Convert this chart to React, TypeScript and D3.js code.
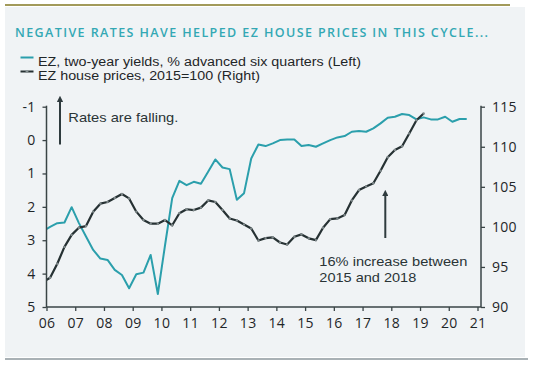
import * as d3 from "d3";
import { useEffect, useRef } from "react";

// quarterly readings, first quarter is 2005 Q4 (clipped at the axis)
const firstQuarter = 2005.875;

const yieldValues = [
  2.73, 2.6, 2.49, 2.47, 2.01, 2.48, 2.89, 3.29, 3.55, 3.59, 3.89, 4.04,
  4.44, 4.02, 3.97, 3.44, 4.61, 3.15, 1.74, 1.22, 1.35, 1.25, 1.31, 0.95,
  0.58, 0.82, 0.87, 1.79, 1.59, 0.55, 0.13, 0.18, 0.1, 0.0, -0.02, -0.02,
  0.18, 0.15, 0.2, 0.1, 0.0, -0.08, -0.12, -0.25, -0.27, -0.25, -0.35, -0.5,
  -0.67, -0.7, -0.78, -0.75, -0.62, -0.68, -0.62, -0.62, -0.7, -0.55, -0.63,
  -0.63,
];

const houseValues = [
  93.1, 93.65, 95.4, 97.5, 99.0, 99.9, 100.1, 101.9, 102.9, 103.1, 103.6,
  104.1, 103.55, 101.9, 100.85, 100.4, 100.4, 100.85, 100.2, 101.7, 102.2,
  102.1, 102.4, 103.3, 103.1, 102.1, 101.05, 100.8, 100.3, 99.8, 98.3, 98.6,
  98.7, 98.05, 97.8, 98.77, 99.06, 98.57, 98.35, 99.9, 100.97, 101.05, 101.47,
  103.3, 104.6, 105.05, 105.45, 107.0, 108.7, 109.6, 110.07, 111.66, 113.3,
  114.15,
];

const yearTicks = [
  2006, 2007, 2008, 2009, 2010, 2011, 2012, 2013, 2014, 2015, 2016, 2017,
  2018, 2019, 2020, 2021,
];
const leftTicks = [-1, 0, 1, 2, 3, 4, 5];
const rightTicks = [90, 95, 100, 105, 110, 115];

const title = "NEGATIVE RATES HAVE HELPED EZ HOUSE PRICES IN THIS CYCLE...";
const legendLabels = [
  "EZ, two-year yields, % advanced six quarters (Left)",
  "EZ house prices, 2015=100 (Right)",
];

const TEAL = "#2b9fac";
const DARK = "#263133";
const FONT = "'Open Sans', 'Liberation Sans', Arial, sans-serif";
// tighter line box for the stacked two-line texts
const BODY_FONT = "'Liberation Sans', Arial, sans-serif";

const Chart = () => {
  const ref = useRef(null);

  useEffect(() => {
    d3.select(ref.current).select("svg").remove();

    const W = 536,
      H = 366;
    const left = 46.5,
      right = 481,
      top = 106.7,
      bottom = 307;

    const svg = d3
      .select(ref.current)
      .append("svg")
      .attr("width", W)
      .attr("height", H)
      .style("display", "block")
      .style("font-family", FONT);

    // panel background and rules
    svg.append("rect").attr("x", 5).attr("y", 7).attr("width", 520).attr("height", 350).attr("fill", "#f0f3f5");
    svg.append("line").attr("x1", 5).attr("x2", 510).attr("y1", 5).attr("y2", 5).attr("stroke", "#a29a5a").attr("stroke-width", 2);
    svg.append("line").attr("x1", 5).attr("x2", 528).attr("y1", 359).attr("y2", 359).attr("stroke", "#a9b1b5").attr("stroke-width", 2);

    svg
      .append("text")
      .attr("x", 15)
      .attr("y", 37)
      .attr("font-size", 12.5)
      .attr("font-weight", 600)
      .attr("fill", "#33a8b4")
      .attr("textLength", 473)
      .attr("lengthAdjust", "spacing")
      .text(title);

    // legend
    const legendY = [65.5, 79.5];
    const legendW = [323, 222];
    legendLabels.forEach((lbl, i) => {
      svg
        .append("line")
        .attr("x1", 20.5)
        .attr("x2", 33.5)
        .attr("y1", legendY[i] - 8)
        .attr("y2", legendY[i] - 8)
        .attr("stroke", i === 0 ? TEAL : DARK)
        .attr("stroke-width", 2);
      if (i === 1) {
        svg.append("circle").attr("cx", 27).attr("cy", legendY[i] - 8).attr("r", 1.4).attr("fill", "#8a9496");
      }
      svg
        .append("text")
        .attr("x", 38)
        .attr("y", legendY[i])
        .attr("font-size", 12.5)
        .attr("font-family", BODY_FONT)
        .attr("fill", "#1f2628")
        .attr("textLength", legendW[i])
        .attr("lengthAdjust", "spacingAndGlyphs")
        .text(lbl);
    });

    const x = d3.scaleLinear().domain([2006, 2021]).range([left, 477.5]);
    const yLeft = d3.scaleLinear().domain([-1, 5]).range([top, bottom]);
    const yRight = d3.scaleLinear().domain([90, 115]).range([bottom, top]);

    const quarter = (i) => firstQuarter + i / 4;

    svg
      .append("clipPath")
      .attr("id", "plot-clip")
      .append("rect")
      .attr("x", left)
      .attr("y", 0)
      .attr("width", right - left)
      .attr("height", H);

    const plot = svg.append("g").attr("clip-path", "url(#plot-clip)");

    const yieldLine = d3
      .line()
      .x((d, i) => x(quarter(i)))
      .y((d) => yLeft(d));
    const houseLine = d3
      .line()
      .x((d, i) => x(quarter(i)))
      .y((d) => yRight(d));

    plot
      .append("path")
      .datum(yieldValues)
      .attr("d", yieldLine)
      .attr("fill", "none")
      .attr("stroke", TEAL)
      .attr("stroke-width", 2)
      .attr("stroke-linejoin", "round");

    plot
      .append("path")
      .datum(houseValues)
      .attr("d", houseLine)
      .attr("fill", "none")
      .attr("stroke", DARK)
      .attr("stroke-width", 2.2)
      .attr("stroke-linejoin", "round");

    plot
      .selectAll("circle.marker")
      .data(houseValues)
      .join("circle")
      .attr("class", "marker")
      .attr("cx", (d, i) => x(quarter(i)))
      .attr("cy", (d) => yRight(d))
      .attr("r", 1.2)
      .attr("fill", "#7f898b");

    // axes
    const styleAxis = (g) => {
      g.select(".domain").remove();
      g.selectAll(".tick line").attr("stroke", "#3a4446").attr("stroke-width", 1.3);
      g.selectAll(".tick text")
        .attr("fill", "#1f2628")
        .attr("font-size", 14)
        .attr("font-family", FONT)
        .attr("letter-spacing", 0.3);
    };

    svg
      .append("g")
      .attr("transform", `translate(${left},0)`)
      .call(d3.axisLeft(yLeft).tickValues(leftTicks).tickFormat((d) => String(d)).tickSize(4).tickPadding(7))
      .call(styleAxis);

    svg
      .append("g")
      .attr("transform", `translate(${right},0)`)
      .call(d3.axisRight(yRight).tickValues(rightTicks).tickFormat((d) => String(d)).tickSize(4).tickPadding(7))
      .call(styleAxis);

    svg
      .append("g")
      .attr("transform", `translate(0,${bottom})`)
      .call(
        d3
          .axisBottom(x)
          .tickValues(yearTicks)
          .tickFormat((d) => String(d).slice(2))
          .tickSize(4)
          .tickPadding(7)
      )
      .call(styleAxis);

    // axis lines
    const axisLine = (x1, y1, x2, y2) =>
      svg
        .append("line")
        .attr("x1", x1)
        .attr("y1", y1)
        .attr("x2", x2)
        .attr("y2", y2)
        .attr("stroke", "#3a4446")
        .attr("stroke-width", 1.5);
    axisLine(left, top - 1, left, bottom);
    axisLine(right, top - 1, right, bottom);
    axisLine(left, bottom, right, bottom);

    // annotations
    const defs = svg.append("defs");
    defs
      .append("marker")
      .attr("id", "arrowhead")
      .attr("viewBox", "0 0 10 10")
      .attr("refX", 5)
      .attr("refY", 5)
      .attr("markerWidth", 3.2)
      .attr("markerHeight", 3.2)
      .attr("orient", "auto")
      .append("path")
      .attr("d", "M0,0 L10,5 L0,10 z")
      .attr("fill", "#2f3b3e");

    const arrow = (ax, y1, y2) =>
      svg
        .append("line")
        .attr("x1", ax)
        .attr("x2", ax)
        .attr("y1", y1)
        .attr("y2", y2)
        .attr("stroke", "#2f3b3e")
        .attr("stroke-width", 2)
        .attr("marker-end", "url(#arrowhead)");

    arrow(60, 144.5, 99);
    arrow(385.3, 238, 193);

    const note = (tx, ty, txt, len) =>
      svg
        .append("text")
        .attr("x", tx)
        .attr("y", ty)
        .attr("font-size", 13)
        .attr("font-family", BODY_FONT)
        .attr("fill", "#2a3436")
        .attr("textLength", len)
        .attr("lengthAdjust", "spacingAndGlyphs")
        .text(txt);

    note(68.3, 122, "Rates are falling.", 110);
    note(319.3, 265.5, "16% increase between", 148);
    note(319.3, 282, "2015 and 2018", 97);
  }, []);

  return <div ref={ref} />;
};

export default function App() {
  return (
    <div style={{ position: "absolute", left: 0, top: 0 }}>
      <Chart />
    </div>
  );
}
